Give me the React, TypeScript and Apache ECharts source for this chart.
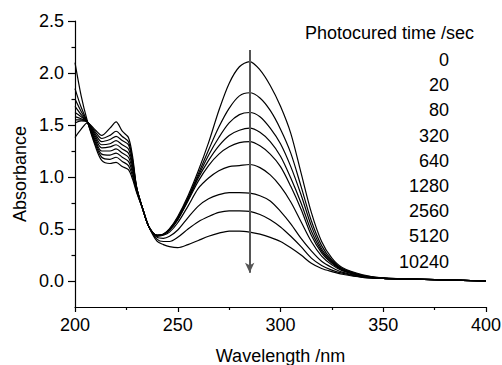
import React, { useEffect, useRef } from "react";
import * as echarts from "echarts";

const wavelengths = [200, 203, 206, 210, 213, 217, 220, 223, 226, 228, 230, 233, 236, 240, 243, 246, 250, 255, 260, 265, 270, 275, 280, 285, 290, 295, 300, 305, 310, 315, 320, 325, 330, 340, 350, 360, 380, 400];

const times = ["0", "20", "80", "320", "640", "1280", "2560", "5120", "10240"];

const abs0 = [1.38, 1.46, 1.52, 1.45, 1.40, 1.47, 1.53, 1.44, 1.38, 1.20, 0.90, 0.69, 0.52, 0.44, 0.45, 0.50, 0.62, 0.82, 1.06, 1.33, 1.64, 1.90, 2.06, 2.11, 2.03, 1.88, 1.68, 1.42, 1.04, 0.66, 0.38, 0.22, 0.13, 0.06, 0.03, 0.02, 0.01, 0.0];
const abs20 = [1.52, 1.54, 1.53, 1.43, 1.37, 1.40, 1.44, 1.39, 1.34, 1.17, 0.90, 0.69, 0.52, 0.44, 0.45, 0.50, 0.61, 0.80, 1.03, 1.26, 1.48, 1.66, 1.78, 1.81, 1.76, 1.64, 1.46, 1.23, 0.91, 0.58, 0.34, 0.20, 0.12, 0.055, 0.03, 0.02, 0.01, 0.0];
const abs80 = [1.55, 1.55, 1.53, 1.41, 1.34, 1.36, 1.39, 1.35, 1.31, 1.15, 0.90, 0.69, 0.52, 0.44, 0.45, 0.49, 0.60, 0.79, 1.01, 1.21, 1.38, 1.52, 1.60, 1.62, 1.58, 1.47, 1.32, 1.10, 0.83, 0.53, 0.31, 0.19, 0.115, 0.05, 0.025, 0.02, 0.01, 0.0];
const abs320 = [1.58, 1.56, 1.53, 1.39, 1.31, 1.32, 1.35, 1.31, 1.27, 1.12, 0.89, 0.69, 0.52, 0.44, 0.45, 0.49, 0.59, 0.78, 0.99, 1.16, 1.30, 1.40, 1.45, 1.47, 1.43, 1.34, 1.20, 0.99, 0.75, 0.48, 0.29, 0.18, 0.11, 0.05, 0.025, 0.02, 0.01, 0.0];
const abs640 = [1.62, 1.58, 1.53, 1.37, 1.28, 1.29, 1.31, 1.27, 1.23, 1.10, 0.89, 0.69, 0.52, 0.44, 0.45, 0.49, 0.59, 0.77, 0.96, 1.11, 1.22, 1.29, 1.33, 1.34, 1.30, 1.22, 1.10, 0.91, 0.69, 0.44, 0.27, 0.17, 0.105, 0.05, 0.025, 0.02, 0.01, 0.0];
const abs1280 = [1.68, 1.60, 1.53, 1.35, 1.25, 1.25, 1.27, 1.23, 1.19, 1.07, 0.88, 0.69, 0.52, 0.43, 0.44, 0.47, 0.56, 0.72, 0.89, 0.99, 1.06, 1.10, 1.11, 1.12, 1.09, 1.02, 0.91, 0.76, 0.57, 0.38, 0.24, 0.155, 0.10, 0.045, 0.025, 0.02, 0.01, 0.0];
const abs2560 = [1.75, 1.63, 1.53, 1.33, 1.22, 1.21, 1.23, 1.19, 1.15, 1.04, 0.87, 0.69, 0.52, 0.42, 0.41, 0.43, 0.49, 0.61, 0.72, 0.79, 0.83, 0.85, 0.85, 0.845, 0.82, 0.77, 0.67, 0.55, 0.41, 0.29, 0.19, 0.13, 0.085, 0.04, 0.025, 0.02, 0.01, 0.0];
const abs5120 = [1.85, 1.67, 1.53, 1.31, 1.19, 1.17, 1.19, 1.15, 1.11, 1.01, 0.86, 0.69, 0.52, 0.40, 0.38, 0.38, 0.42, 0.50, 0.57, 0.62, 0.66, 0.675, 0.675, 0.67, 0.64, 0.59, 0.52, 0.43, 0.33, 0.22, 0.15, 0.105, 0.075, 0.035, 0.025, 0.02, 0.01, 0.0];
const abs10240 = [2.10, 1.78, 1.54, 1.29, 1.16, 1.13, 1.14, 1.10, 1.07, 0.98, 0.85, 0.69, 0.52, 0.38, 0.35, 0.33, 0.32, 0.35, 0.39, 0.43, 0.46, 0.48, 0.48, 0.47, 0.45, 0.42, 0.38, 0.32, 0.25, 0.17, 0.12, 0.09, 0.065, 0.035, 0.025, 0.02, 0.01, 0.0];

const seriesValues = [abs0, abs20, abs80, abs320, abs640, abs1280, abs2560, abs5120, abs10240];

const yMajorTicks = [0, 0.5, 1.0, 1.5, 2.0, 2.5];
const yMinorTicks = [0.25, 0.75, 1.25, 1.75, 2.25];

const arrowWavelength = 285;
const arrowFrom = 2.22;
const arrowTo = 0.08;

const legendTitle = "Photocured time /sec";
const FONT = "'Liberation Sans', Arial, Helvetica, sans-serif";

export default function App() {
  const ref = useRef<HTMLDivElement>(null);
  useEffect(() => {
    document.body.style.margin = "0";
    const chart = echarts.init(ref.current!, null, { renderer: "svg" });
    const series: any[] = seriesValues.map((vals, i) => ({
      name: times[i],
      type: "line",
      data: wavelengths.map((w, j) => [w, vals[j]]),
      showSymbol: false,
      smooth: 0.3,
      lineStyle: { color: "#000", width: 1.2 },
      z: 3,
      markLine:
        i === 0
          ? {
              silent: true,
              symbol: ["none", "arrow"],
              symbolSize: [7, 10],
              label: { show: false },
              lineStyle: { color: "#555", width: 2, type: "solid" },
              data: [[{ coord: [arrowWavelength, arrowFrom] }, { coord: [arrowWavelength, arrowTo] }]],
            }
          : undefined,
    }));

    const graphics: any[] = [
      {
        type: "text",
        x: 305,
        y: 33,
        style: { text: legendTitle, font: `18px ${FONT}`, fill: "#000", textVerticalAlign: "middle" },
      },
      ...times.map((t, i) => ({
        type: "text",
        x: 449,
        y: 60 + i * 25.2,
        style: {
          text: t,
          font: `18px ${FONT}`,
          fill: "#000",
          textAlign: "right",
          textVerticalAlign: "middle",
        },
      })),
      {
        type: "text",
        x: 19.5,
        y: 174,
        rotation: Math.PI / 2,
        style: {
          text: "Absorbance",
          font: `18px ${FONT}`,
          fill: "#000",
          textAlign: "center",
          textVerticalAlign: "middle",
        },
      },
    ];

    chart.setOption({
      animation: false,
      backgroundColor: "#fff",
      grid: { left: 75, right: 16, top: 21, bottom: 58, containLabel: false, outerBoundsMode: "none" },
      xAxis: {
        type: "value",
        min: 200,
        max: 400,
        interval: 50,
        name: "Wavelength /nm",
        nameLocation: "middle",
        nameGap: 40,
        nameTextStyle: { fontSize: 18, color: "#000", fontFamily: FONT },
        axisLine: { show: true, onZero: false, lineStyle: { color: "#000", width: 1.2 } },
        axisTick: { show: true, inside: false, length: 5, lineStyle: { color: "#000", width: 1.2 } },
        minorTick: { show: true, splitNumber: 2, length: 3, lineStyle: { color: "#000", width: 1.2 } },
        axisLabel: { fontSize: 18, color: "#000", fontFamily: FONT, margin: 9 },
        splitLine: { show: false },
        minorSplitLine: { show: false },
      },
      yAxis: [
        {
          type: "value",
          min: -0.25,
          max: 2.5,
          position: "left",
          axisLine: { show: true, onZero: false, lineStyle: { color: "#000", width: 1.2 } },
          axisTick: { show: true, inside: false, length: 7, customValues: yMajorTicks, lineStyle: { color: "#000", width: 1.2 } },
          axisLabel: {
            fontSize: 18,
            color: "#000",
            fontFamily: FONT,
            margin: 11,
            customValues: yMajorTicks,
            formatter: (v: number) => v.toFixed(1),
          },
          splitLine: { show: false },
        },
        {
          type: "value",
          min: -0.25,
          max: 2.5,
          position: "left",
          axisLine: { show: false },
          axisTick: { show: true, inside: false, length: 3.5, customValues: yMinorTicks, lineStyle: { color: "#000", width: 1.2 } },
          axisLabel: { show: false },
          splitLine: { show: false },
        },
      ],
      series,
      graphic: graphics,
    });
    return () => chart.dispose();
  }, []);
  return <div ref={ref} style={{ width: 502, height: 365 }} />;
}
